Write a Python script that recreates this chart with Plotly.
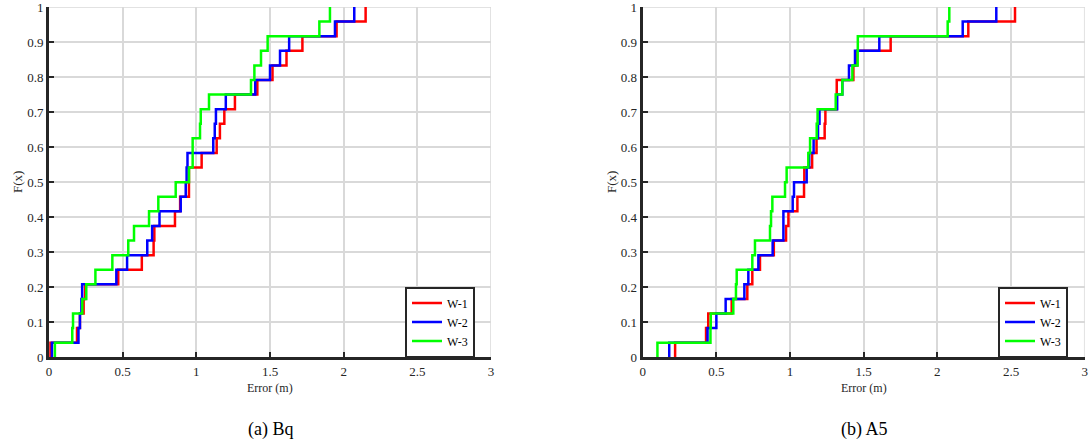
import plotly.graph_objects as go

# Sorted localisation errors (m) for each configuration, 24 samples each
series_names = ["W-1", "W-2", "W-3"]
series_colors = ["#ff0000", "#0000ff", "#00ff00"]

bq_w1 = [0.01, 0.19, 0.21, 0.235, 0.245, 0.47, 0.63, 0.71, 0.715, 0.855, 0.89, 0.95,
         0.95, 1.036, 1.138, 1.16, 1.19, 1.262, 1.414, 1.517, 1.612, 1.72, 1.952, 2.149]
bq_w2 = [0.02, 0.20, 0.21, 0.22, 0.225, 0.457, 0.53, 0.667, 0.70, 0.75, 0.894, 0.928,
         0.934, 0.94, 1.115, 1.125, 1.133, 1.20, 1.40, 1.50, 1.568, 1.63, 1.941, 2.072]
bq_w3 = [0.04, 0.158, 0.163, 0.226, 0.253, 0.315, 0.43, 0.538, 0.577, 0.679, 0.742, 0.86,
         0.95, 0.975, 0.975, 1.025, 1.03, 1.086, 1.371, 1.394, 1.439, 1.484, 1.835, 1.907]

a5_w1 = [0.22, 0.43, 0.445, 0.604, 0.71, 0.744, 0.796, 0.89, 0.973, 0.989, 1.05, 1.095,
         1.097, 1.15, 1.18, 1.235, 1.24, 1.317, 1.317, 1.43, 1.455, 1.683, 2.21, 2.527]
a5_w2 = [0.18, 0.44, 0.50, 0.563, 0.69, 0.717, 0.785, 0.882, 0.955, 0.955, 1.018, 1.027,
         1.113, 1.13, 1.16, 1.19, 1.20, 1.32, 1.355, 1.40, 1.441, 1.606, 2.172, 2.40]
a5_w3 = [0.10, 0.46, 0.462, 0.615, 0.633, 0.638, 0.744, 0.762, 0.864, 0.871, 0.88, 0.966,
         0.977, 1.124, 1.136, 1.181, 1.187, 1.31, 1.355, 1.423, 1.459, 1.46, 2.07, 2.081]

x_ticks = [0, 0.5, 1, 1.5, 2, 2.5, 3]
x_tick_labels = ["0", "0.5", "1", "1.5", "2", "2.5", "3"]
y_ticks = [0, 0.1, 0.2, 0.3, 0.4, 0.5, 0.6, 0.7, 0.8, 0.9, 1]
y_tick_labels = ["0", "0.1", "0.2", "0.3", "0.4", "0.5", "0.6", "0.7", "0.8", "0.9", "1"]
captions = ["(a) Bq", "(b) A5"]
x_title = "Error (m)"
y_title = "F(x)"

panels = [[bq_w1, bq_w2, bq_w3], [a5_w1, a5_w2, a5_w3]]


def ecdf(errors):
    e = sorted(errors)
    n = len(e)
    xs = [e[0]] + e
    ys = [i / n for i in range(n + 1)]
    return xs, ys


W, H = 1091, 444
fig = go.Figure()

x_doms = [[49 / W, 491 / W], [642.7 / W, 1084.7 / W]]
y_dom = [1 - 357.3 / H, 1 - 7 / H]
grid_color = "#d9d9d9"

for p, data in enumerate(panels):
    xa = "x" if p == 0 else "x2"
    ya = "y" if p == 0 else "y2"
    lg = "legend" if p == 0 else "legend2"
    for name, color, errs in zip(series_names, series_colors, data):
        xs, ys = ecdf(errs)
        fig.add_trace(go.Scatter(
            x=xs, y=ys, mode="lines", name=name,
            line=dict(color=color, width=2.5, shape="hv"),
            xaxis=xa, yaxis=ya, legend=lg, showlegend=True,
        ))

font_serif = "Liberation Serif"
axis_common = dict(
    showgrid=True, gridcolor=grid_color, gridwidth=1.5,
    zeroline=False, showline=True, linecolor="#262626", linewidth=3,
    ticks="inside", ticklen=5, tickwidth=2, tickcolor="#262626",
    tickfont=dict(family=font_serif, size=13, color="#262626"),
    mirror=False, automargin=False, ticklabeloverflow="allow",
)

layout = dict(
    width=W, height=H,
    margin=dict(l=0, r=0, t=0, b=0, pad=0, autoexpand=False),
    paper_bgcolor="white", plot_bgcolor="white",
    showlegend=True,
)
for p in range(2):
    sx = "" if p == 0 else "2"
    layout["xaxis" + sx] = dict(axis_common, domain=x_doms[p], range=[0, 3],
                                tickvals=x_ticks, ticktext=x_tick_labels,
                                anchor="y" + sx)
    layout["yaxis" + sx] = dict(axis_common, domain=y_dom, range=[0, 1],
                                tickvals=y_ticks, ticktext=y_tick_labels,
                                anchor="x" + sx)

legend_common = dict(
    bgcolor="white", bordercolor="#262626", borderwidth=2,
    font=dict(family=font_serif, size=12, color="black"),
    xanchor="left", yanchor="middle", y=1 - 322 / H,
    tracegroupgap=0, itemwidth=30,
)
layout["legend"] = dict(legend_common, x=405 / W)
layout["legend2"] = dict(legend_common, x=998 / W)

fig.update_layout(**layout)

# grey frame lines at the top (y=1) and right (x=3) edges, like the grid
shapes = []
for p in range(2):
    sx = "" if p == 0 else "2"
    shapes.append(dict(type="line", xref="x" + sx + " domain", yref="y" + sx,
                       x0=0, x1=1, y0=1, y1=1, layer="below",
                       line=dict(color=grid_color, width=1.5)))
    shapes.append(dict(type="line", xref="x" + sx, yref="y" + sx + " domain",
                       x0=3, x1=3, y0=0, y1=1, layer="below",
                       line=dict(color=grid_color, width=1.5)))
fig.update_layout(shapes=shapes)

annotations = []
centers = [270, 864]
ylab_x = [17, 611]
for p in range(2):
    annotations.append(dict(text=x_title, x=centers[p] / W, y=1 - 388 / H,
                            xref="paper", yref="paper", showarrow=False,
                            xanchor="center", yanchor="middle",
                            font=dict(family=font_serif, size=12, color="#262626")))
    annotations.append(dict(text=y_title, x=ylab_x[p] / W, y=1 - 182 / H,
                            xref="paper", yref="paper", showarrow=False, textangle=-90,
                            xanchor="center", yanchor="middle",
                            font=dict(family=font_serif, size=13, color="#262626")))
    annotations.append(dict(text=captions[p], x=(centers[p]) / W, y=1 - 429 / H,
                            xref="paper", yref="paper", showarrow=False,
                            xanchor="center", yanchor="middle",
                            font=dict(family=font_serif, size=18, color="black")))
fig.update_layout(annotations=annotations)

fig.write_html("out.html",
               config={"displayModeBar": False},
               post_script="document.body.style.margin='0';document.body.style.overflow='hidden';")
